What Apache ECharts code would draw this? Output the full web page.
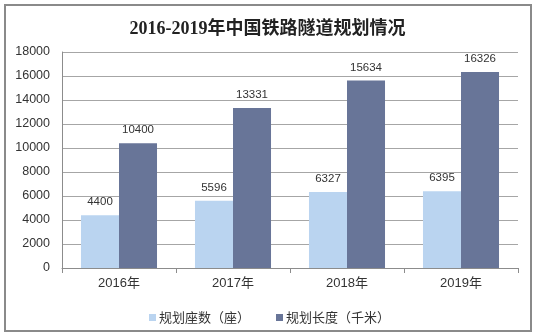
<!DOCTYPE html>
<html>
<head>
<meta charset="utf-8">
<script src="https://cdn.jsdelivr.net/npm/echarts@6/dist/echarts.min.js"></script>
<style>
  html, body { margin: 0; padding: 0; background: #fff; }
  #chart { width: 535px; height: 335px; }
</style>
</head>
<body>
<div id="chart"></div>
<script>
// Railway tunnel plans, 2016-2019
const years = ['2016年', '2017年', '2018年', '2019年'];
const tunnelCount = [4400, 5596, 6327, 6395];      // 规划座数（座）
const tunnelLength = [10400, 13331, 15634, 16326]; // 规划长度（千米）
const yTicks = [0, 2000, 4000, 6000, 8000, 10000, 12000, 14000, 16000, 18000];

const labelStyle = { show: true, position: 'top', distance: 7, color: '#333', fontSize: 11.5, fontFamily: 'Liberation Sans, Arial, sans-serif' };

const chart = echarts.init(document.getElementById('chart'));
chart.setOption({
  animation: false,
  backgroundColor: '#fff',
  title: {
    text: '2016-2019年中国铁路隧道规划情况',
    left: 'center',
    top: 15,
    textStyle: { fontSize: 18, fontWeight: 'bold', color: '#222', fontFamily: 'Liberation Serif, Noto Sans CJK SC, serif' }
  },
  graphic: [{
    type: 'rect',
    shape: { x: 5, y: 5, width: 526, height: 326 },
    style: { fill: 'none', stroke: '#8a8a8a', lineWidth: 2 },
    silent: true
  }],
  legend: {
    top: 306,
    left: 144,
    itemWidth: 7,
    itemHeight: 7,
    itemGap: 26,
    icon: 'rect',
    textStyle: { fontSize: 13, color: '#333', padding: [0, 0, 0, -2], fontFamily: 'Noto Sans CJK SC, sans-serif' },
    data: ['规划座数（座）', '规划长度（千米）']
  },
  grid: { left: 62, right: 17, top: 52, bottom: 67, containLabel: false },
  xAxis: {
    type: 'category',
    data: years,
    axisLine: { lineStyle: { color: '#8c8c8c' } },
    axisTick: { show: true, length: 5, alignWithLabel: false, lineStyle: { color: '#8c8c8c' } },
    axisLabel: { color: '#333', fontSize: 13, margin: 9, fontFamily: 'Liberation Sans, Noto Sans CJK SC, sans-serif' }
  },
  yAxis: {
    type: 'value',
    min: yTicks[0],
    max: yTicks[yTicks.length - 1],
    interval: 2000,
    axisLine: { show: true, lineStyle: { color: '#8c8c8c' } },
    axisTick: { show: false },
    splitLine: { lineStyle: { color: '#a6a6a6' } },
    axisLabel: { color: '#333', fontSize: 12.5, margin: 12, formatter: v => String(v), fontFamily: 'Liberation Sans, Arial, sans-serif' }
  },
  series: [
    {
      name: '规划座数（座）',
      type: 'bar',
      data: tunnelCount,
      barGap: '0%',
      barCategoryGap: '33.3%',
      itemStyle: { color: '#bad4f0' },
      label: labelStyle
    },
    {
      name: '规划长度（千米）',
      type: 'bar',
      data: tunnelLength,
      itemStyle: { color: '#687598' },
      label: labelStyle
    }
  ]
});
</script>
</body>
</html>
